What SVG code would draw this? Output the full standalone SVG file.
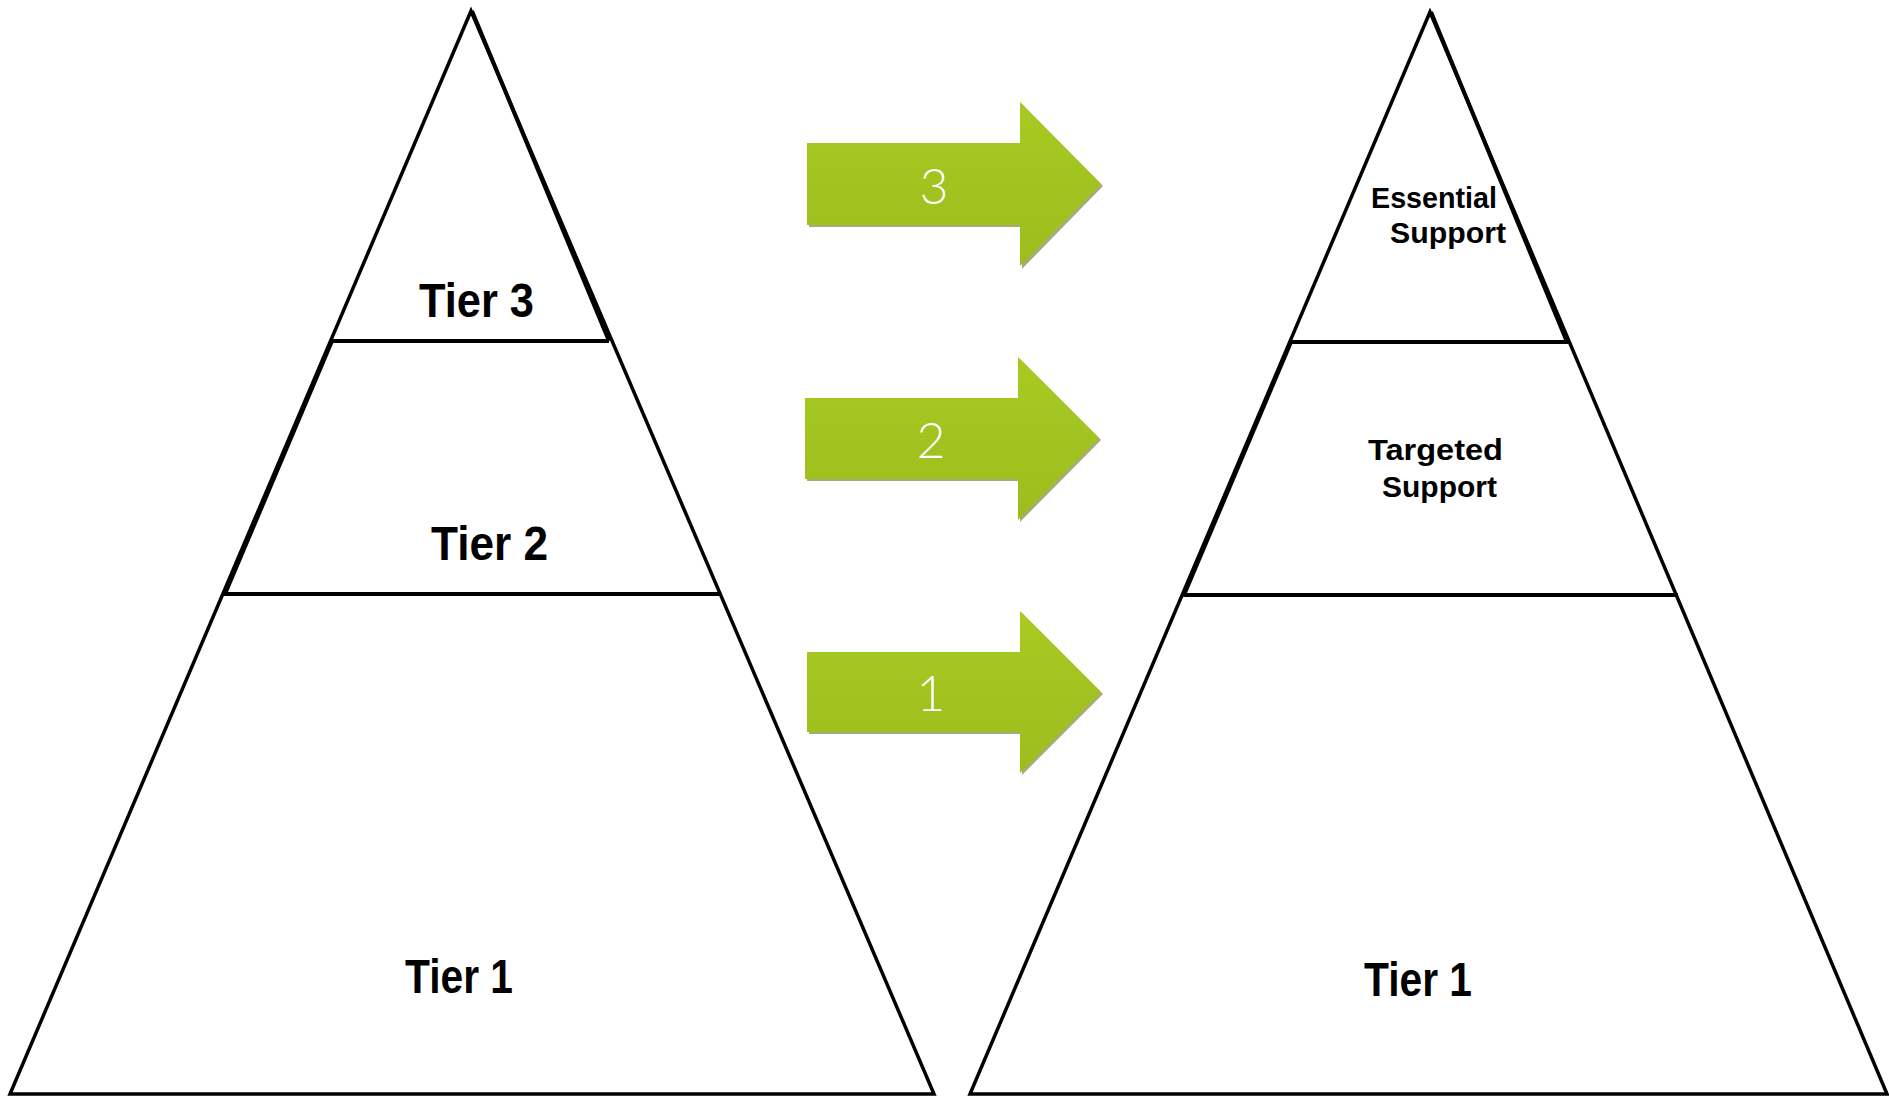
<svg xmlns="http://www.w3.org/2000/svg" width="1889" height="1096" viewBox="0 0 1889 1096">
<style>
.edge{fill:none;stroke:#000;stroke-width:3.5;stroke-linejoin:miter}
.thick{fill:none;stroke:#000;stroke-width:4}
.lbl{font-family:"Liberation Sans",Arial,sans-serif;font-weight:bold;fill:#000}
.big{font-size:48px}
.small{font-size:29px}
.num{font-family:Lato,"Liberation Sans",sans-serif;font-weight:300;font-size:50px;fill:#fff;text-anchor:middle}
.arrow{fill:url(#g)}
.shadow{fill:#556b0c;opacity:0.55}
</style>
<defs>
<linearGradient id="g" x1="0" y1="0" x2="0" y2="1">
<stop offset="0" stop-color="#a8ca22"/>
<stop offset="1" stop-color="#9cbd1c"/>
</linearGradient>
</defs>
<rect width="1889" height="1096" fill="#fff"/>
<g id="left-pyramid">
<polygon class="edge" points="471,11 10,1094 934,1094"/>
<line class="thick" x1="472" y1="11" x2="609" y2="341"/>
<line class="thick" x1="332" y1="341" x2="609" y2="341"/>
<line class="thick" x1="332" y1="341" x2="225" y2="594"/>
<line class="thick" x1="224" y1="594" x2="719" y2="594"/>
<text class="lbl big" x="419" y="317" textLength="115" lengthAdjust="spacingAndGlyphs">Tier 3</text>
<text class="lbl big" x="431" y="560" textLength="117" lengthAdjust="spacingAndGlyphs">Tier 2</text>
<text class="lbl big" x="405" y="993" textLength="108" lengthAdjust="spacingAndGlyphs">Tier 1</text>
</g>
<g id="right-pyramid">
<polygon class="edge" points="1430,12 970,1094 1887,1094"/>
<line class="thick" x1="1431" y1="12" x2="1567" y2="342"/>
<line class="thick" x1="1291" y1="342" x2="1568" y2="342"/>
<line class="thick" x1="1291" y1="342" x2="1184" y2="595"/>
<line class="thick" x1="1183" y1="595" x2="1678" y2="595"/>
<text class="lbl small" x="1371" y="208" textLength="126" lengthAdjust="spacingAndGlyphs">Essential</text>
<text class="lbl small" x="1390" y="243" textLength="116" lengthAdjust="spacingAndGlyphs">Support</text>
<text class="lbl small" x="1368" y="460" textLength="135" lengthAdjust="spacingAndGlyphs">Targeted</text>
<text class="lbl small" x="1382" y="497" textLength="115" lengthAdjust="spacingAndGlyphs">Support</text>
<text class="lbl big" x="1364" y="996" textLength="108" lengthAdjust="spacingAndGlyphs">Tier 1</text>
</g>
<g id="connectors">
<g id="arrow-3">
<polygon class="shadow" points="809,145 1022,145 1022,104 1103,186 1022,269 1022,227 809,227"/>
<polygon class="arrow" points="807,143 1020,143 1020,102 1101,184 1020,266 1020,225 807,225"/>
<text class="num" x="934" y="204">3</text>
</g>
<g id="arrow-2">
<polygon class="shadow" points="807,400 1020,400 1020,359 1101,440 1020,522 1020,481 807,481"/>
<polygon class="arrow" points="805,398 1018,398 1018,357 1099,438 1018,520 1018,479 805,479"/>
<text class="num" x="931" y="458">2</text>
</g>
<g id="arrow-1">
<polygon class="shadow" points="809,654 1022,654 1022,613 1103,694 1022,775 1022,734 809,734"/>
<polygon class="arrow" points="807,652 1020,652 1020,611 1101,692 1020,773 1020,732 807,732"/>
<text class="num" x="931" y="711">1</text>
</g>
</g>
</svg>
